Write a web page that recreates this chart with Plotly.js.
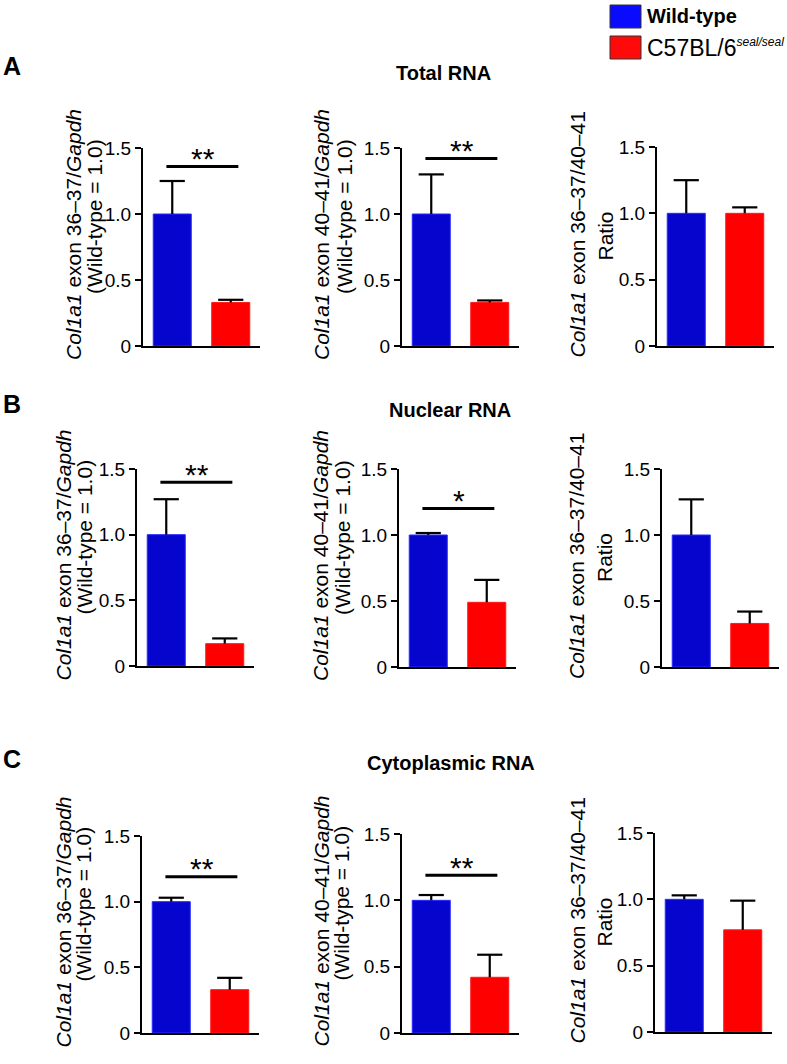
<!DOCTYPE html>
<html>
<head>
<meta charset="utf-8">
<script src="https://cdn.plot.ly/plotly-3.0.1.min.js"></script>
<style>html,body{margin:0;padding:0;background:#fff;}#chart{width:787px;height:1064px;}</style>
</head>
<body>
<div id="chart"></div>
<script>
// ---------------- data ----------------
const sectionLetters = ['A', 'B', 'C'];
const sectionTitles = ['Total RNA', 'Nuclear RNA', 'Cytoplasmic RNA'];
const groupNames = ['Wild-type', 'C57BL/6<sup><span style="font-size:12px"><i>seal/seal</i></span></sup>'];
const yTickVals = [0, 0.5, 1.0, 1.5];
const yTickText = ['0', '0.5', '1.0', '1.5'];
const yTitles = [
  ['<i>Col1a1</i> exon 36–37/<i>Gapdh</i>', '(Wild-type = 1.0)'],
  ['<i>Col1a1</i> exon 40–41/<i>Gapdh</i>', '(Wild-type = 1.0)'],
  ['<i>Col1a1</i> exon 36–37/40–41', 'Ratio']
];
// rows: Total, Nuclear, Cytoplasmic; columns: 36–37, 40–41, ratio
const wtMean  = [[1.00, 1.00, 1.00], [1.00, 1.00, 1.00], [1.00, 1.00, 1.00]];
const wtErr   = [[0.25, 0.30, 0.25], [0.27, 0.015, 0.27], [0.03, 0.04, 0.03]];
const mutMean = [[0.33, 0.33, 1.00], [0.17, 0.49, 0.33], [0.33, 0.42, 0.77]];
const mutErr  = [[0.02, 0.015, 0.045], [0.04, 0.17, 0.09], [0.09, 0.17, 0.22]];
const sigLevel = [[1.36, 1.42, null], [1.40, 1.20, null], [1.19, 1.19, null]];
const sigText  = [['**', '**', ''], ['**', '*', ''], ['**', '**', '']];

// ---------------- layout geometry (pixels) ----------------
const W = 787, H = 1064;
// [left, right, top, bottom] of each plotting area
const boxes = [
  [[143, 260, 148, 346], [402, 519, 148, 346], [657, 774, 147, 346]],
  [[137, 254, 469, 666], [399, 516, 469, 667], [662, 779, 469, 667]],
  [[142, 259, 836, 1033], [402, 519, 834, 1033], [655, 772, 833, 1032]]
];
// x centres of the two y-title lines
const titleX = [
  [[74, 94], [322, 344], [577, 605]],
  [[63, 84], [320, 342], [576, 604]],
  [[63, 83], [321, 341], [577, 604]]
];
const letterPos = [[12, 66], [12, 404], [12, 759]];
const sectionTitlePos = [[443, 73], [450, 410], [451, 763]];

const FONT = 'Liberation Sans, Arial, Helvetica, sans-serif';
const BLUE = '#0505cd';
const RED = '#ff0000';
const px = x => x / W;
const py = y => 1 - y / H;

const traces = [];
const annotations = [];
const shapes = [];
const layout = {
  width: W, height: H, autosize: false,
  margin: {l: 0, r: 0, t: 0, b: 0},
  paper_bgcolor: '#ffffff', plot_bgcolor: 'rgba(0,0,0,0)',
  showlegend: false,
  font: {family: FONT, color: '#000', size: 19},
  bargap: 0,
  annotations: annotations,
  shapes: shapes
};

let k = 0;
for (let r = 0; r < 3; r++) {
  for (let c = 0; c < 3; c++) {
    k++;
    const xa = k === 1 ? 'x' : 'x' + k;
    const ya = k === 1 ? 'y' : 'y' + k;
    const [L, R, T, B] = boxes[r][c];
    layout['xaxis' + (k === 1 ? '' : k)] = {
      domain: [px(L), px(R)], anchor: ya, range: [-0.5, 1.5],
      showline: true, linecolor: '#000', linewidth: 2,
      showgrid: false, zeroline: false, showticklabels: false, ticks: '',
      fixedrange: true
    };
    layout['yaxis' + (k === 1 ? '' : k)] = {
      domain: [py(B), py(T)], anchor: xa, range: [0, 1.5],
      showline: true, linecolor: '#000', linewidth: 2,
      showgrid: false, zeroline: false,
      ticks: 'outside', ticklen: 6, tickwidth: 2, tickcolor: '#000',
      tickvals: yTickVals, ticktext: yTickText,
      tickfont: {family: FONT, size: 19, color: '#000'},
      fixedrange: true
    };
    const means = [wtMean[r][c], mutMean[r][c]];
    const errs = [wtErr[r][c], mutErr[r][c]];
    traces.push({
      type: 'bar', xaxis: xa, yaxis: ya,
      x: [0, 1], y: means,
      width: 0.65,
      marker: {color: [BLUE, RED], line: {color: ['#2a2aff', '#ff1a1a'], width: 1}},
      name: '', hoverinfo: 'skip'
    });
    // upper error whiskers: cap marker at mean+SEM, stem down to the bar top
    traces.push({
      type: 'scatter', mode: 'markers', xaxis: xa, yaxis: ya,
      x: [0, 1], y: means.map((m, i) => m + errs[i]),
      marker: {symbol: 'line-ew', size: 18, color: '#000', line: {color: '#000', width: 2.2}},
      error_y: {type: 'data', symmetric: false, array: [0, 0], arrayminus: errs,
        color: '#000', thickness: 2.2, width: 0},
      cliponaxis: false, hoverinfo: 'skip'
    });
    if (sigLevel[r][c] !== null) {
      traces.push({
        type: 'scatter', mode: 'lines', xaxis: xa, yaxis: ya,
        x: [-0.1, 1.13], y: [sigLevel[r][c], sigLevel[r][c]],
        line: {color: '#000', width: 3}, hoverinfo: 'skip', cliponaxis: false
      });
      annotations.push({
        xref: xa, yref: ya, x: 0.52, y: sigLevel[r][c],
        text: sigText[r][c], showarrow: false,
        xanchor: 'center', yanchor: 'middle', yshift: 8,
        font: {family: FONT, size: 30, color: '#000'}
      });
    }
    // y-axis titles (two lines)
    const midY = (T + B) / 2;
    annotations.push({
      xref: 'paper', yref: 'paper', x: px(titleX[r][c][0]), y: py(midY - 12),
      text: yTitles[c][0], showarrow: false, textangle: -90,
      xanchor: 'center', yanchor: 'middle',
      font: {family: FONT, size: 21, color: '#000'}
    });
    annotations.push({
      xref: 'paper', yref: 'paper', x: px(titleX[r][c][1]), y: py(midY - (c === 2 ? 10 : 30)),
      text: yTitles[c][1], showarrow: false, textangle: -90,
      xanchor: 'center', yanchor: 'middle',
      font: {family: FONT, size: 21, color: '#000'}
    });
  }
  annotations.push({
    xref: 'paper', yref: 'paper', x: px(letterPos[r][0]), y: py(letterPos[r][1]),
    text: '<b>' + sectionLetters[r] + '</b>', showarrow: false,
    xanchor: 'center', yanchor: 'middle',
    font: {family: FONT, size: 25, color: '#000'}
  });
  annotations.push({
    xref: 'paper', yref: 'paper', x: px(sectionTitlePos[r][0]), y: py(sectionTitlePos[r][1]),
    text: '<b>' + sectionTitles[r] + '</b>', showarrow: false,
    xanchor: 'center', yanchor: 'middle',
    font: {family: FONT, size: 20, color: '#000'}
  });
}

// legend (key) at top right
const keyColors = ['#0a0aff', '#ff0a0a'];
const keyRows = [[5, 28, 16], [36, 59, 48]];
for (let i = 0; i < 2; i++) {
  shapes.push({
    type: 'rect', xref: 'paper', yref: 'paper',
    x0: px(610), x1: px(641), y0: py(keyRows[i][1]), y1: py(keyRows[i][0]),
    fillcolor: keyColors[i], line: {color: '#333', width: 1}
  });
  annotations.push({
    xref: 'paper', yref: 'paper', x: px(645), y: py(keyRows[i][2]),
    text: i === 0 ? '<b>' + groupNames[i] + '</b>' : groupNames[i],
    showarrow: false, xanchor: 'left', yanchor: 'middle',
    font: {family: FONT, size: i === 0 ? 20 : 23, color: '#000'}
  });
}

Plotly.newPlot('chart', traces, layout, {staticPlot: true, displayModeBar: false});
</script>
</body>
</html>
